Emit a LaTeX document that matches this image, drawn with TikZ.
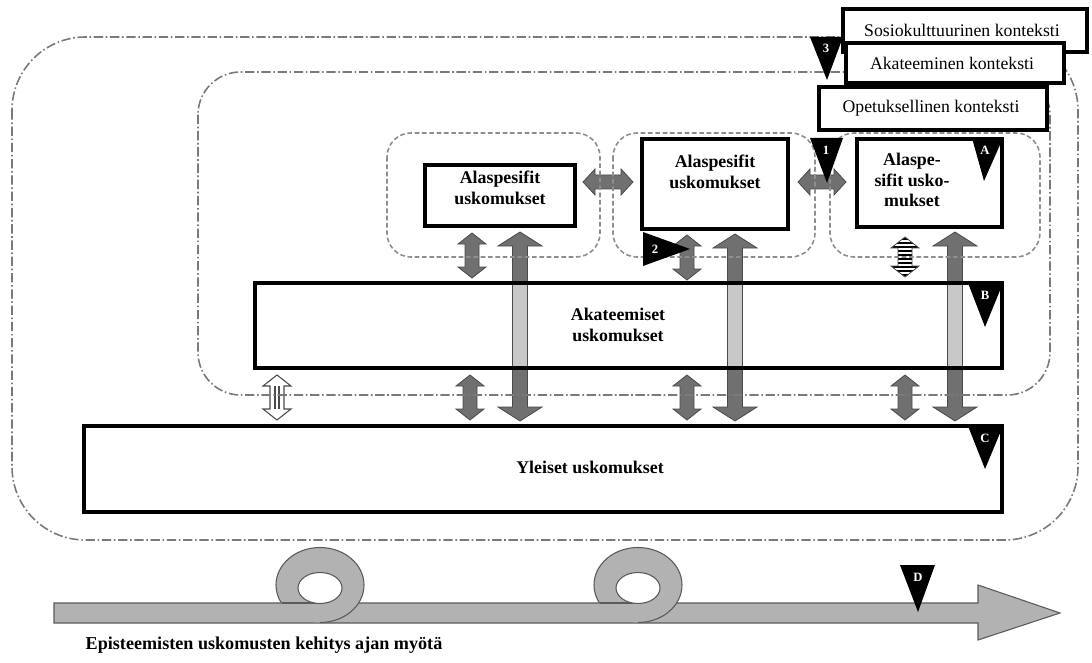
\documentclass[tikz,border=0pt]{standalone}
\usepackage{fontspec}
\setmainfont{Liberation Serif}
\usetikzlibrary{arrows.meta}
\definecolor{arrfill}{HTML}{707070}
\definecolor{arrline}{HTML}{4A4A4A}
\definecolor{lightshaft}{HTML}{C8C8C8}
\definecolor{ctxgray}{HTML}{7A7A7A}
\definecolor{tlfill}{HTML}{B2B2B2}
\definecolor{tlline}{HTML}{5A5A5A}
\newcommand{\VDbl}[7]{%
 \path[#7] (#1,#2) -- (#1+#4,#2+#6) -- (#1+#5,#2+#6) -- (#1+#5,#3-#6) -- (#1+#4,#3-#6) -- (#1,#3) -- (#1-#4,#3-#6) -- (#1-#5,#3-#6) -- (#1-#5,#2+#6) -- (#1-#4,#2+#6) -- cycle;}
\newcommand{\HDbl}[7]{%
 \path[#7] (#1,#3) -- (#1+#6,#3-#4) -- (#1+#6,#3-#5) -- (#2-#6,#3-#5) -- (#2-#6,#3-#4) -- (#2,#3) -- (#2-#6,#3+#4) -- (#2-#6,#3+#5) -- (#1+#6,#3+#5) -- (#1+#6,#3+#4) -- cycle;}
\newcommand{\TLoop}[2]{%
 \fill[tlfill] (#1,#2) ellipse [x radius=44, y radius=37.5];
 \draw[tlline, line width=0.8pt] (#1,#2) ++(90:44 and 37.5) arc [start angle=90, end angle=-209, x radius=44, y radius=37.5];
 \draw[tlline, line width=0.8pt] (#1-38,603) -- (#1,603);
 \filldraw[fill=white, draw=tlline, line width=0.8pt] (#1,#2+3) ellipse [x radius=22, y radius=15.5];}
\tikzset{
 ctxouter/.style={draw=ctxgray, line width=1.2pt, dash pattern=on 7pt off 2pt on 1.2pt off 2pt},
 ctxteach/.style={draw=ctxgray!85, line width=1.2pt, dash pattern=on 3.5pt off 2pt},
 boxline/.style={draw=black, line width=3.4pt},
 lblbox/.style={draw=black, line width=3.4pt, fill=white, inner sep=0pt},
 boxtext/.style={font=\fontsize{13.4}{15.5}\selectfont\bfseries, align=center},
 lbltext/.style={font=\fontsize{13.3}{15}\selectfont},
 tri/.style={fill=black},
 tritext/.style={text=white, font=\fontsize{9.5}{10}\selectfont\bfseries},
 darr/.style={fill=arrfill, draw=arrline, line width=0.6pt},
}
\begin{document}
\begin{tikzpicture}[x=0.75pt,y=-0.75pt]
\useasboundingbox (0,0) rectangle (1092,663);
% big double arrows (box -> C)
\VDbl{520}{232}{421}{22}{7.5}{14}{darr}
\VDbl{735}{234}{421}{22}{7.5}{14}{darr}
\VDbl{955}{232}{421}{22}{7.5}{14}{darr}
% small double arrows
\HDbl{583}{633}{182}{13}{7}{12}{darr}
\HDbl{798}{846}{182}{13}{7}{12}{darr}
\VDbl{472}{233}{278}{14}{7}{11}{darr}
\VDbl{687}{235}{280}{14}{7}{11}{darr}
\VDbl{470}{375}{420}{14}{7}{11}{darr}
\VDbl{687}{375}{420}{14}{7}{11}{darr}
\VDbl{905}{375}{420}{14}{7}{11}{darr}
% striped arrow
\begin{scope}
 \VDbl{905}{237}{277}{14}{7}{11}{clip}
 \fill[white] (885,230) rectangle (925,285);
 \foreach \yy in {239,243,...,277} \draw[black, line width=1.3pt] (885,\yy) -- (925,\yy);
\end{scope}
\VDbl{905}{237}{277}{14}{7}{11}{draw=arrline, line width=0.6pt}
% hollow arrow
\VDbl{277}{375}{420}{14}{7}{11}{fill=white, draw=arrline, line width=0.8pt}
\draw[arrline, line width=0.8pt] (275,386) -- (275,409) (279,386) -- (279,409);
% contexts
\draw[ctxouter, rounded corners=55] (12,37) rectangle (1078,540);
\draw[ctxouter, rounded corners=32] (198,72) rectangle (1050,395);
\draw[ctxteach, rounded corners=18] (387,133) rectangle (600,257);
\draw[ctxteach, rounded corners=18] (613,133) rectangle (815,257);
\draw[ctxteach, rounded corners=18] (830,133) rectangle (1040,257);
% boxes
\filldraw[boxline, fill=white] (425,165) rectangle (575,226);
\filldraw[boxline, fill=white] (642,139) rectangle (788,229);
\filldraw[boxline, fill=white] (857,139) rectangle (1002,227);
\fill[white] (255,283) rectangle (1002,368);
\foreach \xx in {520,735,955} \filldraw[fill=lightshaft, draw=arrline, line width=0.6pt] (\xx-7.5,283) rectangle (\xx+7.5,368);
\draw[boxline] (255,283) rectangle (1002,368);
\filldraw[boxline, fill=white] (84,426) rectangle (1002,512);
\node[boxtext] (t1) at (500,188) {Alaspesifit\\uskomukset};
\node[boxtext] (t2) at (715,172) {Alaspesifit\\uskomukset};
\node[boxtext] (t3) at (912,180) {Alaspe-\\sifit usko-\\mukset};
\node[boxtext] (tb) at (618,325) {Akateemiset\\uskomukset};
\node[boxtext] (tc) at (590,467) {Yleiset uskomukset};
% context labels
\draw[lblbox] (843,9) rectangle (1087,52);
\node[lbltext] (ls) at (962,30) {Sosiokulttuurinen konteksti};
\draw[lblbox] (846,43) rectangle (1064,83);
\node[lbltext] (la) at (952,63) {Akateeminen konteksti};
\draw[lblbox] (819,87) rectangle (1047,130);
\node[lbltext] (lo) at (931,108) {Opetuksellinen konteksti};
% triangles
\fill[tri] (810,37) -- (843,37) -- (827,80) -- cycle;
\node[tritext] (n3) at (826,48) {3};
\fill[tri] (810,138) -- (843,138) -- (827,183) -- cycle;
\node[tritext] (n1) at (826,150) {1};
\fill[tri] (972,138) -- (1003,138) -- (984,181) -- cycle;
\node[tritext] (nA) at (985,150) {A};
\fill[tri] (968,283) -- (1003,283) -- (985,327) -- cycle;
\node[tritext] (nB) at (985,295) {B};
\fill[tri] (968,426) -- (1003,426) -- (985,469) -- cycle;
\node[tritext] (nC) at (985,438) {C};
\fill[tri] (643,232) -- (643,266) -- (690,249) -- cycle;
\node[tritext] (n2) at (655,249) {2};
% timeline
\filldraw[fill=tlfill, draw=tlline, line width=0.8pt] (54,603) -- (978,603) -- (978,585) -- (1060,613) -- (978,640) -- (978,623) -- (54,623) -- cycle;
\TLoop{320}{585}
\TLoop{638}{585}
\fill[tri] (900,565) -- (935,565) -- (918,612) -- cycle;
\node[tritext] (nD) at (918,577) {D};
\node[font=\fontsize{13.6}{15}\selectfont\bfseries, anchor=west] (time) at (81,645) {Episteemisten uskomusten kehitys ajan myötä};
\end{tikzpicture}
\end{document}
